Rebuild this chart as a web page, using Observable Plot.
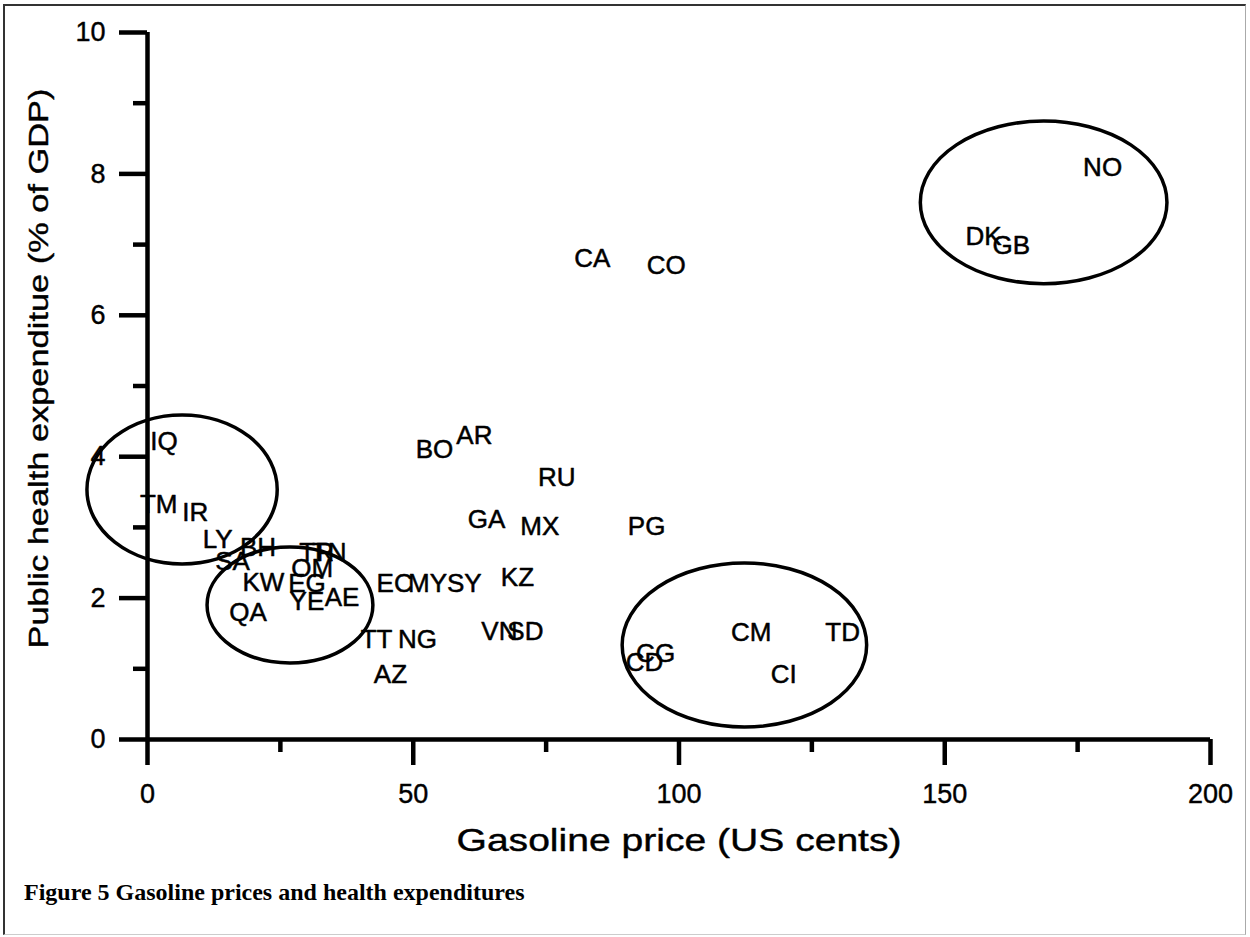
<!DOCTYPE html>
<html>
<head>
<meta charset="utf-8">
<script src="https://cdn.jsdelivr.net/npm/d3@7"></script>
<script src="https://cdn.jsdelivr.net/npm/@observablehq/plot@0.6"></script>
<style>
  html, body { margin: 0; padding: 0; background: #fff; }
  #frame { position: absolute; left: 3px; top: 4px; width: 1243px; height: 931px;
           border-left: 2px solid #333; border-top: 2px solid #333;
           border-right: 1px solid #aaa; border-bottom: 1px solid #ccc; box-sizing: border-box; }
  #chart { position: absolute; left: 0; top: 0; }
  #caption { position: absolute; left: 24px; top: 880px; font-family: "Liberation Serif", "Times New Roman", serif;
             font-weight: bold; font-size: 24px; line-height: 24px; color: #000; white-space: nowrap; }
</style>
</head>
<body>
<div id="frame"></div>
<div id="chart"></div>
<div id="caption">Figure 5 Gasoline prices and health expenditures</div>
<script>
// Country codes, gasoline price (US cents), public health expenditure (% of GDP)
const countries = ["NO","DK","GB","CA","CO","AR","BO","RU","GA","MX","PG","KZ","EC","MY","SY","VN","SD","TT","NG","AZ",
                   "IQ","TM","IR","LY","BH","SA","KW","EG","OM","TR","TN","QA","YE","AE","CM","TD","CI","CD","CG"];
const gasPrice = [179.7,157.3,162.5,83.7,97.6,61.5,54.0,77.0,63.8,73.8,93.9,69.6,46.5,52.7,59.6,66.2,71.1,43.1,50.8,45.7,
                  3.1,2.1,9.0,13.2,20.8,16.0,21.8,30.0,31.0,31.8,34.2,18.9,30.0,36.6,113.6,130.8,119.7,93.5,95.6];
const healthExp = [8.09,7.11,6.98,6.80,6.70,4.30,4.10,3.71,3.11,3.01,3.01,2.29,2.21,2.21,2.21,1.53,1.53,1.41,1.41,0.92,
                   4.21,3.32,3.21,2.82,2.72,2.52,2.22,2.20,2.42,2.64,2.64,1.80,1.95,2.01,1.51,1.51,0.92,1.09,1.22];

// Highlight ellipses (center and radii in data units)
const ellipseCx = [6.6, 26.9, 112.4, 168.7];
const ellipseCy = [3.53, 1.895, 1.33, 7.59];
const ellipseRx = [17.9, 15.6, 23.0, 23.2];
const ellipseRy = [1.054, 0.82, 1.16, 1.15];

// Axis ticks
const xTicks = [0, 50, 100, 150, 200];
const xMinor = [25, 75, 125, 175];
const yTicks = [0, 2, 4, 6, 8, 10];
const yMinor = [1, 3, 5, 7, 9];

const xTitle = "Gasoline price (US cents)";
const yTitle = "Public health expenditue (% of GDP)";

const points = countries.map((c, i) => ({code: c, price: gasPrice[i], health: healthExp[i]}));
const ellipses = ellipseCx.map((cx, i) => ({cx, cy: ellipseCy[i], rx: ellipseRx[i], ry: ellipseRy[i]}));

function ellipseMark(index, scales) {
  const g = d3.create("svg:g");
  for (const e of ellipses) {
    const px = scales.x(e.cx), py = scales.y(e.cy);
    g.append("ellipse")
      .attr("cx", px).attr("cy", py)
      .attr("rx", Math.abs(scales.x(e.cx + e.rx) - px))
      .attr("ry", Math.abs(scales.y(e.cy + e.ry) - py))
      .attr("fill", "none").attr("stroke", "#000").attr("stroke-width", 3.5);
  }
  return g.node();
}

const fmt = d3.format("d");

const chart = Plot.plot({
  width: 1250,
  height: 870,
  marginLeft: 147,
  marginRight: 40,
  marginTop: 32,
  marginBottom: 131,
  style: {fontFamily: "'Liberation Sans', Arial, sans-serif", background: "transparent", color: "#000", overflow: "visible"},
  x: {domain: [0, 200]},
  y: {domain: [0, 10]},
  marks: [
    ellipseMark,
    Plot.axisY(yTicks, {tickSize: 28, tickPadding: 14, fontSize: 27, strokeWidth: 4.5, tickFormat: fmt, label: null,
                        textStroke: "#000", textStrokeWidth: 0.4}),
    Plot.axisY(yMinor, {tickSize: 14, tickFormat: () => "", strokeWidth: 4.5, label: null}),
    Plot.axisX(xTicks, {tickSize: 26, tickPadding: 18, fontSize: 27, strokeWidth: 4.5, tickFormat: fmt, label: null,
                        textStroke: "#000", textStrokeWidth: 0.4}),
    Plot.axisX(xMinor, {tickSize: 13, tickFormat: () => "", strokeWidth: 4.5, label: null}),
    Plot.ruleX([0], {y1: 0, y2: 10, strokeWidth: 4.5}),
    Plot.ruleY([0], {x1: 0, x2: 200, strokeWidth: 4.5}),
    Plot.text(points, {x: "price", y: "health", text: "code", fontSize: 26, fill: "#000", stroke: "#000", strokeWidth: 0.5}),
    Plot.text([xTitle], {frameAnchor: "bottom", textAnchor: "middle", lineAnchor: "top", dy: 89, fontSize: 31,
                         fill: "#000", stroke: "#000", strokeWidth: 0.4}),
    Plot.text([yTitle], {frameAnchor: "left", textAnchor: "middle", lineAnchor: "top", rotate: -90, dx: -119, dy: -17.5,
                         fontSize: 28, fill: "#000", stroke: "#000", strokeWidth: 0.4})
  ]
});

document.getElementById("chart").appendChild(chart);

// Stretch the axis titles to the width used in the original figure
for (const t of chart.querySelectorAll("text")) {
  if (t.textContent === xTitle) { t.setAttribute("textLength", 445); t.setAttribute("lengthAdjust", "spacingAndGlyphs"); }
  if (t.textContent === yTitle) { t.setAttribute("textLength", 560); t.setAttribute("lengthAdjust", "spacingAndGlyphs"); }
}
</script>
</body>
</html>
